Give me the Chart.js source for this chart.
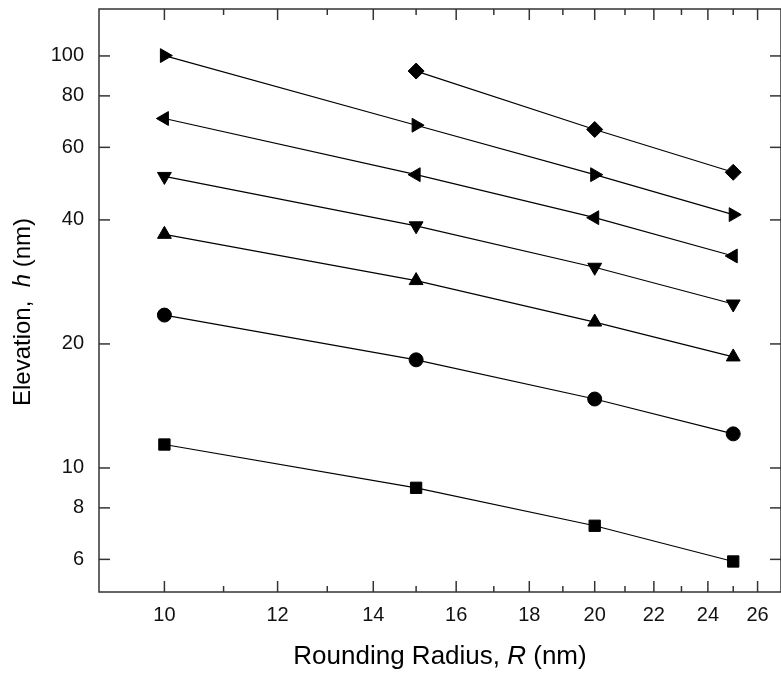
<!DOCTYPE html>
<html>
<head>
<meta charset="utf-8">
<script src="https://cdn.jsdelivr.net/npm/chart.js@4.4.1/dist/chart.umd.min.js"></script>
<style>
  html, body { margin: 0; padding: 0; background: #fff; overflow: hidden; }
  #wrap { width: 790px; height: 675px; }
</style>
</head>
<body>
<div id="wrap"><canvas id="elevChart" width="790" height="675"></canvas></div>
<script>
// --------------------
// Data: elevation h (nm) vs rounding radius R (nm)
// --------------------
const radii = [10, 15, 20, 25];
const squareH = [11.4, 8.95, 7.24, 5.93];
const circleH = [23.5, 18.3, 14.7, 12.1];
const upTriH = [36.9, 28.5, 22.6, 18.6];
const downTriH = [51.0, 38.7, 30.7, 25.0];
const leftTriH = [70.5, 51.5, 40.5, 32.7];
const rightTriH = [100.2, 67.9, 51.5, 41.2];
const diamondR = [15, 20, 25];
const diamondH = [91.9, 66.3, 52.2];

const xTicks = [10, 12, 14, 16, 18, 20, 22, 24, 26];
const xMinorTicks = [11, 13, 15, 17, 19, 21, 23, 25];
const yTicks = [6, 8, 10, 20, 40, 60, 80, 100];

const FONT = "'Liberation Sans', Arial, sans-serif";

function toPoints(xs, ys) {
    return xs.map((x, i) => ({ x, y: ys[i] }));
}

function series(xs, ys, style, rotation, radius) {
    return {
        data: toPoints(xs, ys),
        showLine: true,
        borderColor: "#000",
        borderWidth: 1.2,
        backgroundColor: "#000",
        pointStyle: style,
        rotation: rotation || 0,
        pointRadius: radius || 8,
        pointBorderWidth: 1,
        pointBorderColor: "#000",
        pointBackgroundColor: "#000"
    };
}

// --------------------
// Frame, inward ticks, tick labels and axis titles
// --------------------
const framePlugin = {
    id: "frameTicks",
    afterDraw(chart) {
        const { ctx, chartArea: a, scales: { x, y } } = chart;
        ctx.save();
        ctx.strokeStyle = "#333";
        ctx.lineWidth = 1.5;
        ctx.strokeRect(a.left, a.top, a.right - a.left, a.bottom - a.top);

        const line = (x1, y1, x2, y2) => {
            ctx.beginPath();
            ctx.moveTo(x1, y1);
            ctx.lineTo(x2, y2);
            ctx.stroke();
        };

        xTicks.forEach(v => {
            const px = x.getPixelForValue(v);
            line(px, a.bottom, px, a.bottom - 11);
            line(px, a.top, px, a.top + 11);
        });
        xMinorTicks.forEach(v => {
            const px = x.getPixelForValue(v);
            line(px, a.bottom, px, a.bottom - 6);
            line(px, a.top, px, a.top + 6);
        });
        yTicks.forEach(v => {
            const py = y.getPixelForValue(v);
            line(a.left, py, a.left + 11, py);
            line(a.right, py, a.right - 11, py);
        });

        // tick labels
        ctx.fillStyle = "#111";
        ctx.font = "20px " + FONT;
        ctx.textAlign = "center";
        ctx.textBaseline = "middle";
        xTicks.forEach(v => {
            ctx.fillText(String(v), x.getPixelForValue(v), a.bottom + 23);
        });
        ctx.textAlign = "right";
        yTicks.forEach(v => {
            ctx.fillText(String(v), a.left - 15, y.getPixelForValue(v));
        });

        // axis titles with italic symbols
        const drawMixed = (parts, cx, cy) => {
            let total = 0;
            parts.forEach(p => {
                ctx.font = p.font;
                p.w = ctx.measureText(p.text).width;
                total += p.w;
            });
            let cur = cx - total / 2;
            ctx.textAlign = "left";
            parts.forEach(p => {
                ctx.font = p.font;
                ctx.fillText(p.text, cur, cy);
                cur += p.w;
            });
        };

        const reg = "26px " + FONT;
        const ita = "italic 26px " + FONT;
        ctx.fillStyle = "#000";
        drawMixed([
            { text: "Rounding Radius, ", font: reg },
            { text: "R", font: ita },
            { text: " (nm)", font: reg }
        ], (a.left + a.right) / 2, 657);

        ctx.save();
        ctx.translate(23, 312);
        ctx.rotate(-Math.PI / 2);
        const regY = "24px " + FONT;
        const itaY = "italic 24px " + FONT;
        drawMixed([
            { text: "Elevation,  ", font: regY },
            { text: "h", font: itaY },
            { text: " (nm)", font: regY }
        ], 0, 0);
        ctx.restore();

        ctx.restore();
    }
};

// --------------------
// Build chart
// --------------------
const ctx = document.getElementById("elevChart").getContext("2d");

new Chart(ctx, {
    type: "scatter",
    data: {
        datasets: [
            series(radii, squareH, "rect"),
            series(radii, circleH, "circle", 0, 7),
            series(radii, upTriH, "triangle"),
            series(radii, downTriH, "triangle", 180),
            series(radii, leftTriH, "triangle", -90),
            series(radii, rightTriH, "triangle", 90),
            series(diamondR, diamondH, "rectRot")
        ]
    },
    options: {
        responsive: false,
        animation: false,
        devicePixelRatio: 1,
        layout: { padding: { left: 0, top: 4.7, right: 6, bottom: 0 } },
        plugins: {
            legend: { display: false },
            tooltip: { enabled: false }
        },
        scales: {
            x: {
                type: "logarithmic",
                min: 9,
                max: 27,
                grid: { display: false },
                border: { display: false },
                ticks: { display: false },
                afterFit: s => { s.height = 83; }
            },
            y: {
                type: "logarithmic",
                min: 5,
                max: 130,
                grid: { display: false },
                border: { display: false },
                ticks: { display: false },
                afterFit: s => { s.width = 99; }
            }
        }
    },
    plugins: [framePlugin]
});
</script>
</body>
</html>
